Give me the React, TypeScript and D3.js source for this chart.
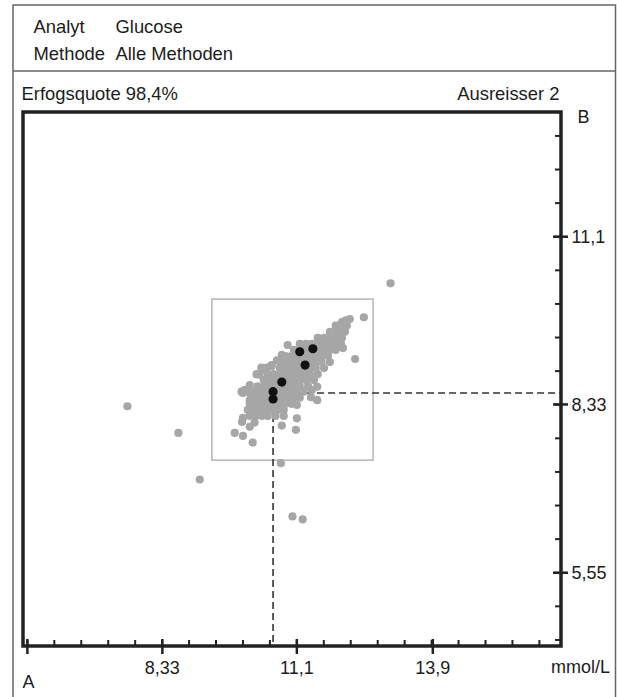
import React from 'react';
import * as d3 from 'd3';

// values in mmol/L
const xMajorTicks = [5.55, 8.33, 11.1, 13.9];
const xMajorLabels = ['', '8,33', '11,1', '13,9'];
const yMajorTicks = [5.55, 8.33, 11.1];
const yMajorLabels = ['5,55', '8,33', '11,1'];
const minorStep = 0.555;

const headerRows = [
  ['Analyt', 'Glucose'],
  ['Methode', 'Alle Methoden'],
];
const successText = 'Erfogsquote 98,4%';
const outlierText = 'Ausreisser 2';

// acceptance box [xMin, xMax, yMin, yMax] and mean (A, B)
const targetBox = [9.35, 12.67, 7.41, 10.07];
const meanPoint = [10.61, 8.52];

const grayPoints: [number, number][] = [
  [12.48, 9.77], [12.19, 9.74], [12.11, 9.72], [12.03, 9.69],
  [11.9, 9.63], [12.03, 9.63], [12.13, 9.63],
  [11.78, 9.53], [11.9, 9.53], [12.01, 9.53], [12.09, 9.53],
  [11.53, 9.43], [11.66, 9.43], [11.78, 9.43], [11.9, 9.43], [12.03, 9.43],
  [11.16, 9.33], [11.29, 9.33], [11.41, 9.33], [11.53, 9.33], [11.66, 9.33], [11.78, 9.33], [11.9, 9.33], [12.01, 9.33],
  [10.91, 9.31], [12.05, 9.26],
  [11.04, 9.23], [11.16, 9.23], [11.29, 9.23], [11.41, 9.23], [11.53, 9.23], [11.66, 9.23], [11.78, 9.23], [11.9, 9.23],
  [10.87, 9.13], [10.99, 9.13], [11.12, 9.13], [11.24, 9.13], [11.37, 9.13], [11.49, 9.13], [11.61, 9.13], [11.74, 9.13],
  [10.79, 9.15], [12.3, 9.08],
  [10.75, 9.03], [10.87, 9.03], [10.99, 9.03], [11.12, 9.03], [11.24, 9.03], [11.37, 9.03], [11.49, 9.03], [11.61, 9.03], [11.78, 9.03],
  [10.69, 9.06], [10.58, 8.96], [10.38, 8.91], [10.27, 8.83], [10.44, 8.9], [10.33, 8.82],
  [10.37, 8.94], [10.48, 8.94], [10.58, 8.98],
  [10.75, 8.93], [10.87, 8.93], [10.99, 8.93], [11.12, 8.93], [11.24, 8.93], [11.37, 8.93], [11.49, 8.93], [11.66, 8.93],
  [10.5, 8.83], [10.62, 8.83], [10.75, 8.83], [10.87, 8.83], [10.99, 8.83], [11.12, 8.83], [11.24, 8.83], [11.37, 8.83], [11.53, 8.83],
  [10.42, 8.73], [10.54, 8.73], [10.66, 8.73], [10.79, 8.73], [10.91, 8.73], [11.04, 8.73], [11.16, 8.73], [11.29, 8.73], [11.45, 8.73],
  [10.29, 8.63], [10.42, 8.63], [10.54, 8.63], [10.66, 8.63], [10.79, 8.63], [10.91, 8.63], [11.04, 8.63], [11.16, 8.63], [11.33, 8.63],
  [10.03, 8.57], [10.13, 8.65], [9.99, 8.52], [10.13, 8.52], [10.27, 8.45], [9.96, 8.54], [10.13, 8.4],
  [10.21, 8.54], [10.33, 8.54], [10.46, 8.54], [10.58, 8.54], [10.7, 8.54], [10.83, 8.54], [10.95, 8.54], [11.08, 8.54], [11.24, 8.54],
  [11.41, 8.57], [11.52, 8.62], [11.52, 8.4], [11.16, 8.44], [11.39, 8.45],
  [10.17, 8.44], [10.29, 8.44], [10.42, 8.44], [10.54, 8.44], [10.66, 8.44], [10.79, 8.44], [10.91, 8.44], [11.04, 8.44],
  [10.13, 8.34], [10.25, 8.34], [10.38, 8.34], [10.5, 8.34], [10.62, 8.34], [10.75, 8.34], [10.87, 8.34], [10.99, 8.34],
  [11.1, 8.32],
  [10.09, 8.24], [10.21, 8.24], [10.33, 8.24], [10.46, 8.24], [10.58, 8.24], [10.7, 8.24], [10.83, 8.24],
  [10.13, 8.14], [10.25, 8.14], [10.38, 8.14], [10.5, 8.14], [10.66, 8.14], [10.83, 8.14],
  [11.1, 8.1], [11.08, 7.91], [10.79, 7.98], [9.99, 8.11], [9.97, 8.04], [9.82, 7.86], [9.99, 7.81], [10.19, 7.7], [10.13, 7.96], [10.23, 8.03],
  [7.61, 8.3], [8.66, 7.86], [9.1, 7.09], [11.01, 6.48], [11.22, 6.43], [13.03, 10.33], [10.77, 7.36],
];

const blackPoints: [number, number][] = [
  [11.16, 9.2], [11.43, 9.25], [11.27, 8.98], [10.79, 8.7], [10.61, 8.54], [10.61, 8.42],
];

const W = 617;
const H = 697;
const left = 23, right = 561, top = 112, bottom = 646;
const font = '"Liberation Sans", Arial, sans-serif';
const ink = '#1c1c1c';

export default function App() {
  const x = d3.scaleLinear().domain([5.46, 16.54]).range([left, right]);
  const y = d3.scaleLinear().domain([4.34, 13.16]).range([bottom, top]);

  const xMinor = d3.range(5.55, 16.4, minorStep).filter(v => x(v) < right - 2);
  const yMinor = d3.range(4.44, 13.1, minorStep).filter(v => y(v) > top + 2 && y(v) < bottom - 2);

  return (
    <svg width={W} height={H} style={{ position: 'absolute', left: 0, top: 0 }} fontFamily={font}>
      <rect x={0} y={0} width={W} height={H} fill="#fff" />
      {/* outer frame */}
      <path d={`M13,${H} V5 H615.5 V${H}`} fill="none" stroke="#666" strokeWidth={1.5} />
      <line x1={13} x2={615.5} y1={71} y2={71} stroke="#666" strokeWidth={1.5} />
      {headerRows.map((r, i) => (
        <g key={i} fontSize={18.4} fill={ink}>
          <text x={33.5} y={32.5 + i * 27}>{r[0]}</text>
          <text x={115.5} y={32.5 + i * 27}>{r[1]}</text>
        </g>
      ))}
      <text x={21.5} y={100} fontSize={18.4} fill={ink}>{successText}</text>
      <text x={559.5} y={100} fontSize={18.4} fill={ink} textAnchor="end">{outlierText}</text>

      {/* target box */}
      <rect x={x(targetBox[0])} y={y(targetBox[3])} width={x(targetBox[1]) - x(targetBox[0])}
        height={y(targetBox[2]) - y(targetBox[3])} fill="none" stroke="#b5b5b5" strokeWidth={1.5} />

      {/* mean lines */}
      <line x1={x(meanPoint[0])} x2={x(meanPoint[0])} y1={y(meanPoint[1])} y2={bottom}
        stroke="#333" strokeWidth={1.6} strokeDasharray="7,4" />
      <line x1={x(meanPoint[0])} x2={right} y1={y(meanPoint[1])} y2={y(meanPoint[1])}
        stroke="#333" strokeWidth={1.6} strokeDasharray="7,4" />

      {grayPoints.map((d, i) => (
        <circle key={'g' + i} cx={x(d[0])} cy={y(d[1])} r={4.1} fill="#a6a6a6" />
      ))}
      {blackPoints.map((d, i) => (
        <circle key={'b' + i} cx={x(d[0])} cy={y(d[1])} r={4.6} fill="#111" />
      ))}

      {/* plot frame */}
      <rect x={left} y={top} width={right - left} height={bottom - top} fill="none" stroke="#222" strokeWidth={3.5} />

      {/* x axis ticks */}
      {xMinor.map((v, i) => (
        <line key={'xm' + i} x1={x(v)} x2={x(v)} y1={bottom} y2={bottom - 6} stroke="#222" strokeWidth={2} />
      ))}
      {xMajorTicks.map((v, i) => (
        <g key={'xM' + i}>
          <line x1={x(v)} x2={x(v)} y1={bottom - 7} y2={bottom + 8} stroke="#222" strokeWidth={2.5} />
          <text x={x(v)} y={674} fontSize={18} fill={ink} textAnchor="middle">{xMajorLabels[i]}</text>
        </g>
      ))}
      {/* y axis ticks on the right */}
      {yMinor.map((v, i) => (
        <line key={'ym' + i} x1={right} x2={right - 6} y1={y(v)} y2={y(v)} stroke="#222" strokeWidth={2} />
      ))}
      {yMajorTicks.map((v, i) => (
        <g key={'yM' + i}>
          <line x1={right - 8} x2={right + 7} y1={y(v)} y2={y(v)} stroke="#222" strokeWidth={2.5} />
          <text x={right + 10.5} y={y(v)} dy="0.35em" fontSize={18} fill={ink}>{yMajorLabels[i]}</text>
        </g>
      ))}
      <text x={22.5} y={688} fontSize={18} fill={ink}>A</text>
      <text x={610} y={673} fontSize={18} fill={ink} textAnchor="end">mmol/L</text>
      <text x={577.5} y={123} fontSize={18} fill={ink}>B</text>
    </svg>
  );
}
